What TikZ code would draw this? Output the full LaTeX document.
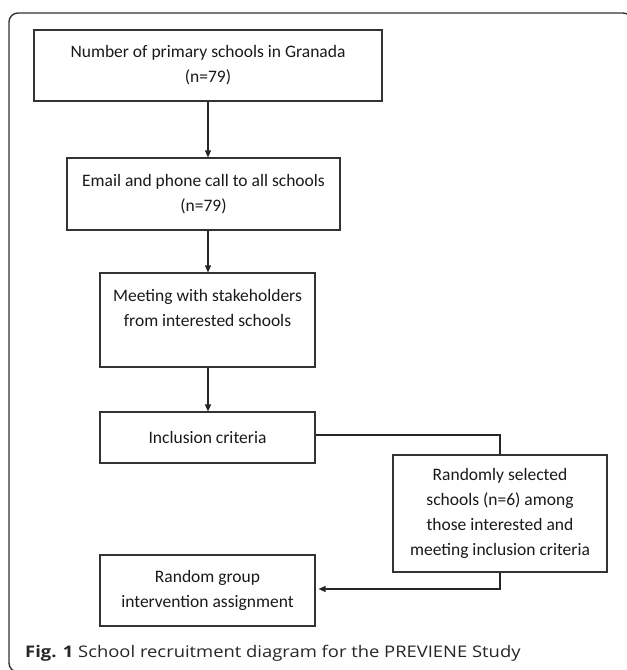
\documentclass[tikz,border=0pt]{standalone}
\usepackage{fontspec}
\setmainfont{Carlito}
\newfontfamily\capfont[FakeStretch=1.15]{Open Sans}
\usetikzlibrary{arrows.meta}
\definecolor{linegray}{HTML}{333333}
\begin{document}
\begin{tikzpicture}[x=1pt,y=-1pt,
  box/.style={draw=linegray,line width=1.1pt,rectangle,inner sep=0pt,align=center,
    font=\fontsize{17.5}{25}\selectfont,text=black!90},
  conn/.style={draw=black!85,line width=1.2pt},
  arr/.style={conn,-{Triangle[length=7pt,width=6pt]}}]
\useasboundingbox (0,0) rectangle (627,670);
\draw[draw=black!80,line width=1.4pt,rounded corners=9pt] (20,672) -- (9,672) -- (9,13) -- (632,13) -- (632,40);
\node[box,minimum width=348pt,minimum height=71pt] (b1) at (208,65.5) {Number of primary schools in Granada\\(n=79)};
\node[box,minimum width=273pt,minimum height=72pt] (b2) at (203.5,194) {Email and phone call to all schools\\(n=79)};
\node[box,minimum width=215pt,minimum height=94pt] (b3) at (207.5,320) {Meeting with stakeholders\\from interested schools\\~};
\node[box,minimum width=215pt,minimum height=51pt] (b4) at (207.5,437.5) {Inclusion criteria};
\node[box,minimum width=214pt,minimum height=117pt] (b5) at (500,513.5) {Randomly selected\\schools (n=6) among\\those interested and\\meeting inclusion criteria};
\node[box,minimum width=215pt,minimum height=71pt] (b6) at (207.5,590.5) {Random group\\intervention assignment};
\draw[arr] (b1.south) -- (b1.south |- b2.north);
\draw[arr] (b1.south |- b2.south) -- (b1.south |- b3.north);
\draw[arr] (b1.south |- b3.south) -- (b1.south |- b4.north);
\draw[conn] ([yshift=2.5pt]b4.east) -| (b5.north);
\draw[arr,shorten >=3pt] (b5.south) |- ([yshift=1.5pt]b6.east);
\node[anchor=base west,inner sep=0pt,font=\capfont\fontsize{16}{18}\selectfont,text=black!85] (cap) at (25,657) {\textbf{Fig. 1} School recruitment diagram for the PREVIENE Study};
\end{tikzpicture}
\end{document}
